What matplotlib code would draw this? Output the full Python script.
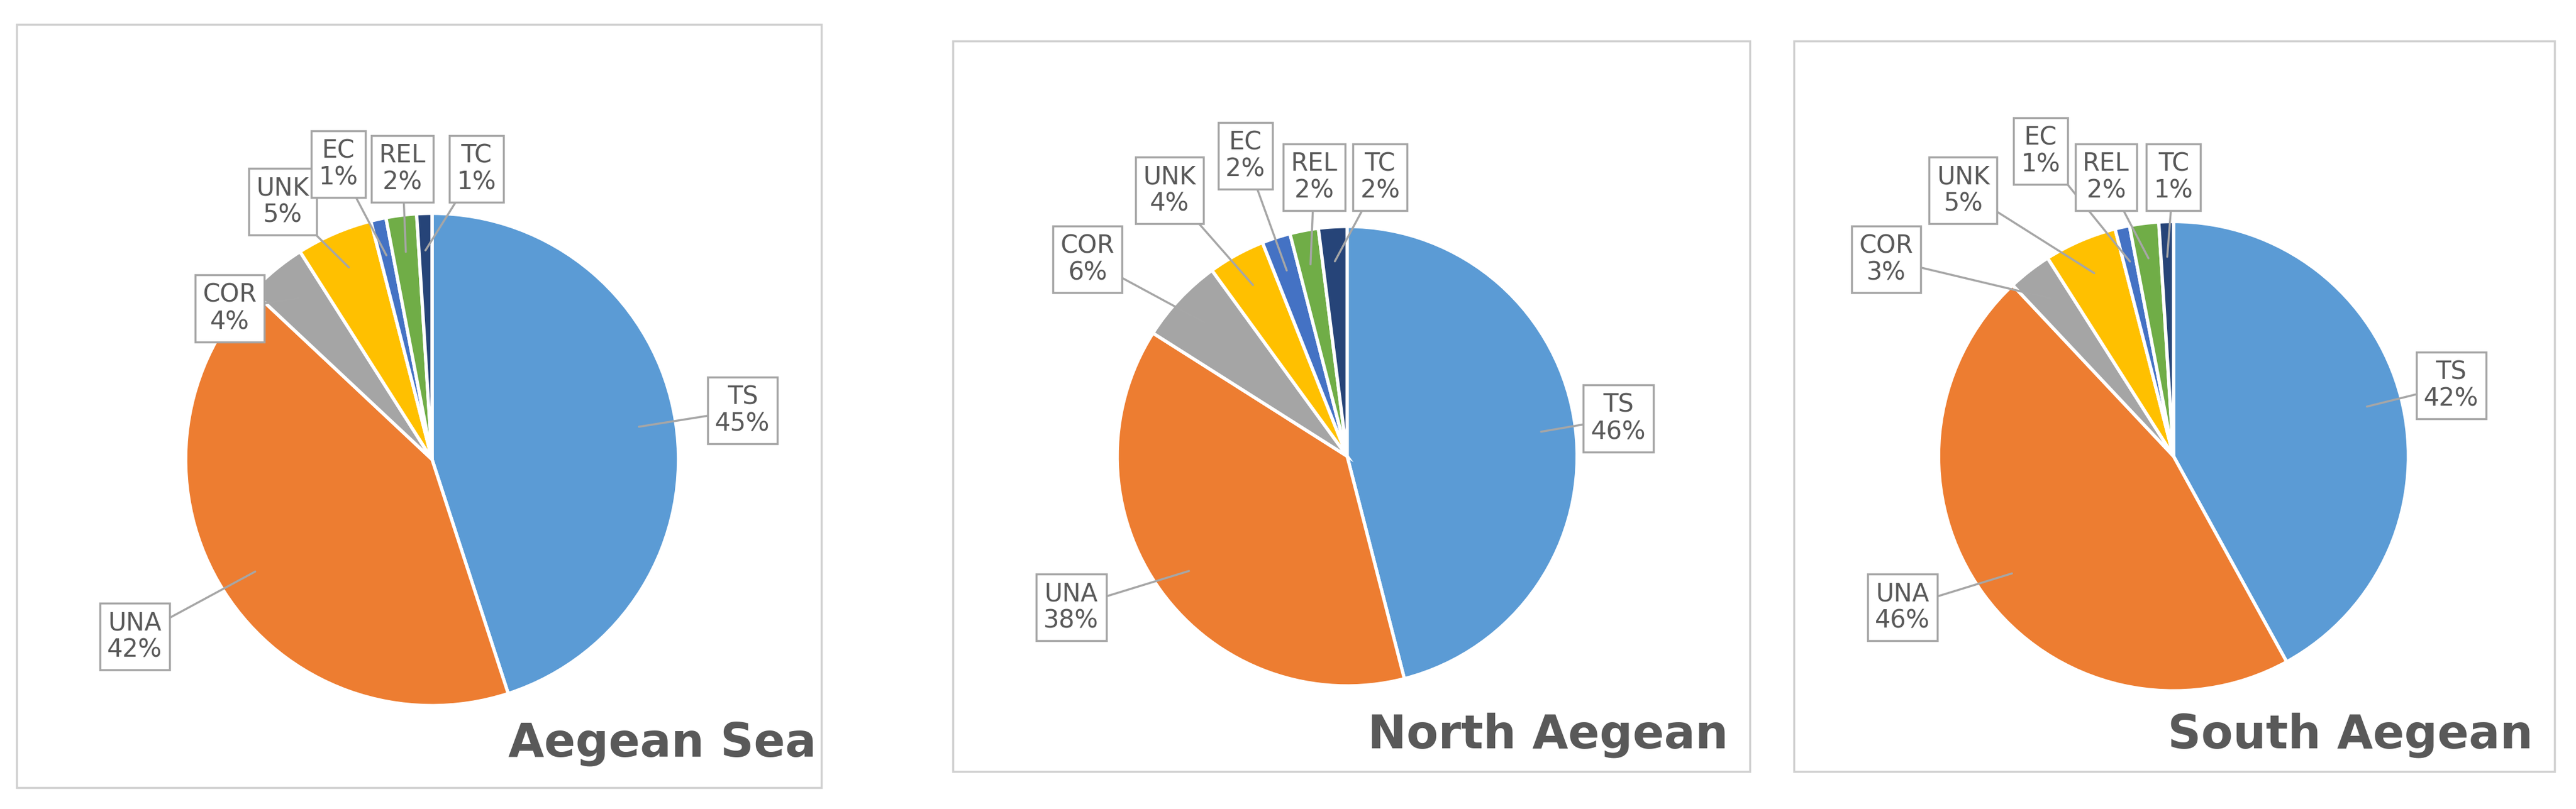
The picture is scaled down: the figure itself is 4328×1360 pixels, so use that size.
import matplotlib
matplotlib.use("Agg")
import matplotlib.pyplot as plt
import numpy as np
from matplotlib.patches import Rectangle

categories = ["TS", "UNA", "COR", "UNK", "EC", "REL", "TC"]
aegean = [45, 42, 4, 5, 1, 2, 1]
north = [46, 38, 6, 4, 2, 2, 2]
south = [42, 46, 3, 5, 1, 2, 1]
titles = ["Aegean Sea", "North Aegean", "South Aegean"]
colors = ["#5B9BD5", "#ED7D31", "#A5A5A5", "#FFC000", "#4472C4", "#70AD47", "#264478"]

W, H = 1568, 493
fig = plt.figure(figsize=(43.28, 13.6), dpi=100)
ax = fig.add_axes([0, 0, 1, 1])
ax.set_xlim(0, W); ax.set_ylim(0, H); ax.axis("off")

def Y(y): return H - y

panels = [
    dict(data=aegean, box=(10, 15, 490, 465), c=(263, 280), r=150, title=(497, 467),
         labels=[(452, 250), (82, 388), (140, 188), (172, 123), (206, 100), (245, 103), (290, 103)]),
    dict(data=north, box=(580, 25, 485, 445), c=(820, 278), r=140, title=(1052, 462),
         labels=[(985, 255), (652, 370), (662, 158), (712, 116), (758, 95), (800, 108), (840, 108)]),
    dict(data=south, box=(1092, 25, 463, 445), c=(1323, 278), r=143, title=(1542, 462),
         labels=[(1492, 235), (1158, 370), (1148, 158), (1195, 116), (1242, 92), (1282, 108), (1323, 108)]),
]

for p, t in zip(panels, titles):
    x0, y0, w, h = p["box"]
    ax.add_patch(Rectangle((x0, Y(y0 + h)), w, h, fill=False, ec="#D0D0D0", lw=2.5))
    cx, cy = p["c"][0], Y(p["c"][1])
    wedges, _ = ax.pie(p["data"], colors=colors, startangle=90, counterclock=False,
                       center=(cx, cy), radius=p["r"], frame=True,
                       wedgeprops=dict(edgecolor="white", linewidth=4))
    for wd, cat, val, (lx, ly) in zip(wedges, categories, p["data"], p["labels"]):
        ang = np.deg2rad((wd.theta1 + wd.theta2) / 2)
        ax_, ay_ = cx + 0.85 * p["r"] * np.cos(ang), cy + 0.85 * p["r"] * np.sin(ang)
        ax.annotate(f"{cat}\n{val}%", xy=(ax_, ay_), xytext=(lx, Y(ly)),
                    ha="center", va="center", fontsize=30, color="#595959",
                    linespacing=1.1,
                    bbox=dict(boxstyle="square,pad=0.3", fc="white", ec="#A6A6A6", lw=2.5),
                    arrowprops=dict(arrowstyle="-", color="#A6A6A6", lw=2.5, shrinkA=0, shrinkB=0))
    ax.text(t if False else p["title"][0], Y(p["title"][1]), t, ha="right", va="bottom",
            fontsize=56, fontweight="bold", color="#595959")

ax.set_xlim(0, W); ax.set_ylim(0, H); ax.set_aspect("auto"); ax.axis("off")
fig.savefig("out.png", dpi=100, facecolor="white")
